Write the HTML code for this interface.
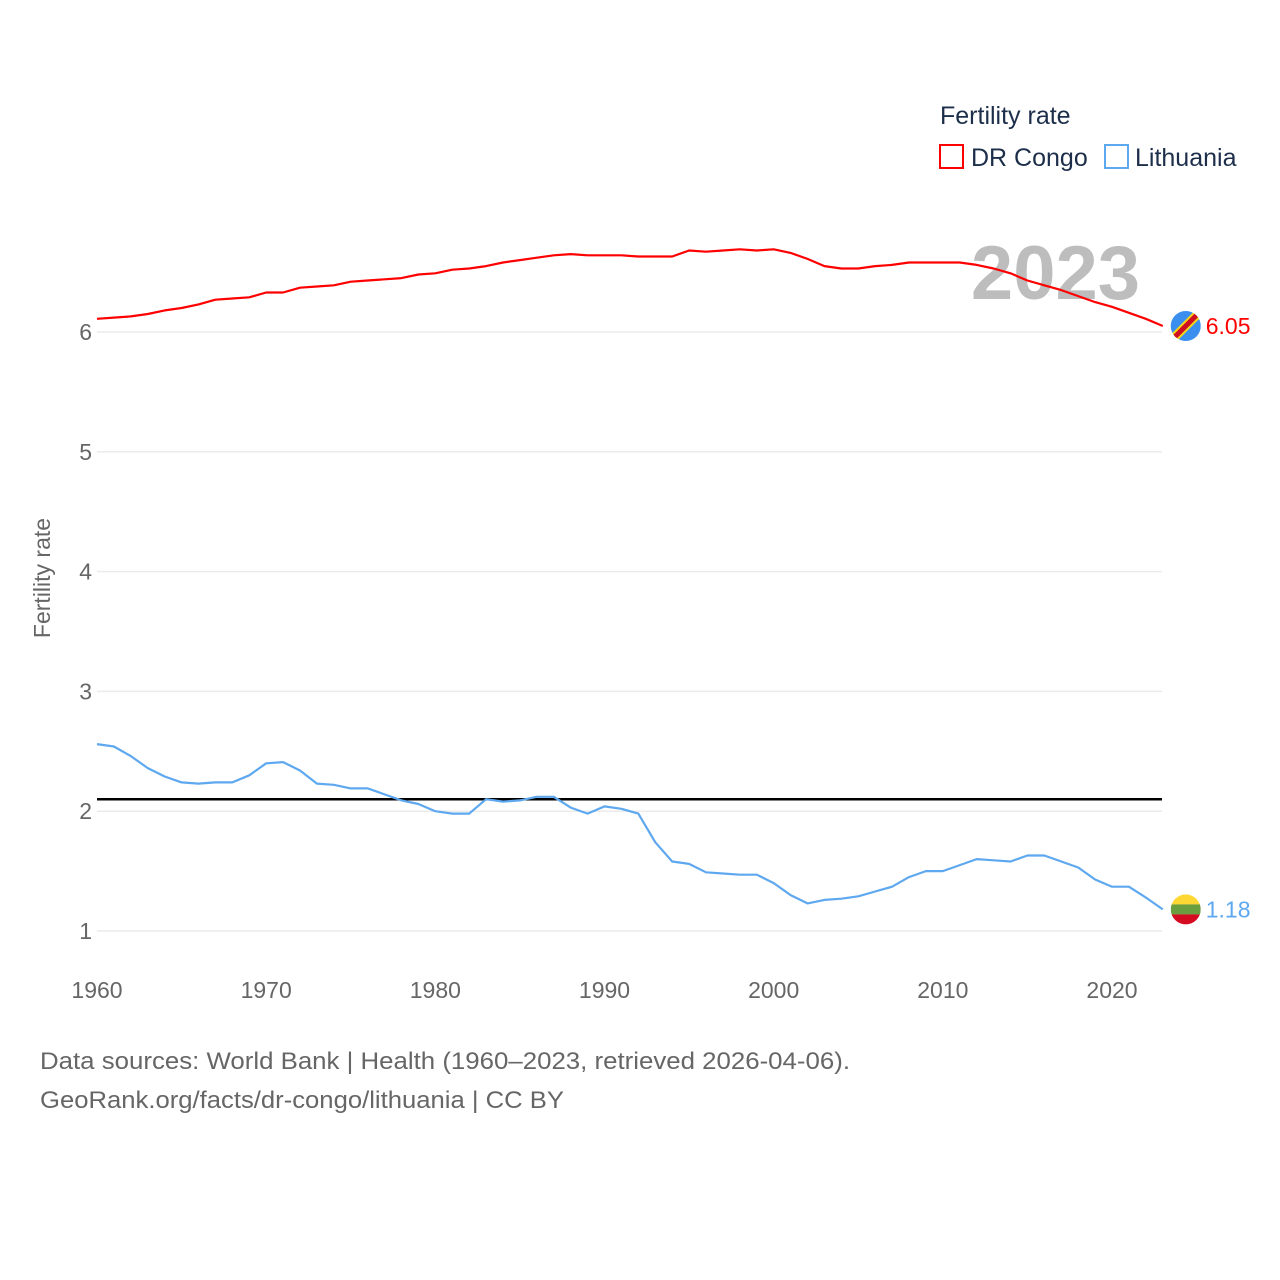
<!DOCTYPE html>
<html><head><meta charset="utf-8"><style>
html,body{margin:0;padding:0;background:#fff;}
svg{display:block;font-family:"Liberation Sans",sans-serif;}
</style></head><body>
<svg id="chart" width="1280" height="1280" viewBox="0 0 1280 1280">
<g id="grid"></g>
<g id="yticks"></g>
<g id="xticks"></g>
<text x="50" y="578" transform="rotate(-90 50 578)" text-anchor="middle" font-size="23" fill="#666">Fertility rate</text>
<text x="1140" y="299" text-anchor="end" font-size="76" font-weight="bold" fill="#bdbdbd">2023</text>
<g id="series"></g>
<g>
<text x="940" y="124" font-size="25" fill="#1c2e4a">Fertility rate</text>
<g><rect x="940" y="145" width="23" height="23" fill="none" stroke="#ff0000" stroke-width="2"/><text x="971" y="166" font-size="25" fill="#1c2e4a">DR Congo</text></g>
<g><rect x="1105" y="145" width="23" height="23" fill="none" stroke="#5ea8ef" stroke-width="2"/><text x="1135" y="166" font-size="25" fill="#1c2e4a">Lithuania</text></g>
</g>
<text x="40" y="1069" font-size="24" fill="#666" textLength="810" lengthAdjust="spacingAndGlyphs">Data sources: World Bank | Health (1960–2023, retrieved 2026-04-06).</text>
<text x="40" y="1108" font-size="24" fill="#666" textLength="524" lengthAdjust="spacingAndGlyphs">GeoRank.org/facts/dr-congo/lithuania | CC BY</text>
</svg>
<script>
const startYear = 1960;
const congo = [6.11,6.12,6.13,6.15,6.18,6.20,6.23,6.27,6.28,6.29,6.33,6.33,6.37,6.38,6.39,6.42,6.43,6.44,6.45,6.48,6.49,6.52,6.53,6.55,6.58,6.60,6.62,6.64,6.65,6.64,6.64,6.64,6.63,6.63,6.63,6.68,6.67,6.68,6.69,6.68,6.69,6.66,6.61,6.55,6.53,6.53,6.55,6.56,6.58,6.58,6.58,6.58,6.56,6.53,6.49,6.43,6.39,6.35,6.30,6.25,6.21,6.16,6.11,6.05];
const lithuania = [2.56,2.54,2.46,2.36,2.29,2.24,2.23,2.24,2.24,2.30,2.40,2.41,2.34,2.23,2.22,2.19,2.19,2.14,2.09,2.06,2.00,1.98,1.98,2.10,2.08,2.09,2.12,2.12,2.03,1.98,2.04,2.02,1.98,1.74,1.58,1.56,1.49,1.48,1.47,1.47,1.40,1.30,1.23,1.26,1.27,1.29,1.33,1.37,1.45,1.50,1.50,1.55,1.60,1.59,1.58,1.63,1.63,1.58,1.53,1.43,1.37,1.37,1.28,1.18];
const yTicks = [1,2,3,4,5,6];
const xTicks = [1960,1970,1980,1990,2000,2010,2020];
const replacement = 2.1;

const NS='http://www.w3.org/2000/svg';
const X0=97;
const xs = yr => X0 + (yr-1960)*(1112-97)/60;
const ys = v => 332 + (6-v)*119.8;
function mk(tag, attrs, parent){const e=document.createElementNS(NS,tag);for(const k in attrs)e.setAttribute(k,attrs[k]);parent.appendChild(e);return e;}
const grid=document.getElementById('grid'), yt=document.getElementById('yticks'), xt=document.getElementById('xticks'), ser=document.getElementById('series');
yTicks.forEach(v=>{
  const l=mk('line',{x1:X0,x2:1162,y1:ys(v),y2:ys(v),stroke:'#ebebeb','stroke-width':1.5},grid);
  
  
  const t=mk('text',{x:92,y:ys(v)+8,'text-anchor':'end','font-size':23,fill:'#666'},yt);
  t.textContent=v;
  
  
});
xTicks.forEach(v=>{
  const t=mk('text',{x:xs(v),y:998,'text-anchor':'middle','font-size':23,fill:'#666'},xt);
  t.textContent=v;
  
  
});
const ref=mk('line',{x1:X0,x2:1162,y1:ys(replacement),y2:ys(replacement),stroke:'#000','stroke-width':2.5},ser);


function line(data,color,name){
  const d=data.map((v,i)=>(i?'L':'M')+xs(startYear+i).toFixed(1)+' '+ys(v).toFixed(1)).join(' ');
  const p=mk('path',{d:d,fill:'none',stroke:color,'stroke-width':2.2,'stroke-linejoin':'round'},ser);
  
  
}
line(congo,'#ff0000','dr-congo-line');
line(lithuania,'#5ea8ef','lithuania-line');
const lc=congo[congo.length-1], ll=lithuania[lithuania.length-1], lx=xs(startYear+congo.length-1);
const g1=mk('g',{},ser);


const cp1=mk('clipPath',{id:'c1'},g1);mk('circle',{cx:lx+23,cy:ys(lc),r:15},cp1);
mk('circle',{cx:lx+23,cy:ys(lc),r:15,fill:'#3a8fee'},g1);
mk('line',{x1:lx+10,y1:ys(lc)+13,x2:lx+36,y2:ys(lc)-13,stroke:'#f7d618','stroke-width':9,'clip-path':'url(#c1)'},g1);
mk('line',{x1:lx+10,y1:ys(lc)+13,x2:lx+36,y2:ys(lc)-13,stroke:'#ce1021','stroke-width':5,'clip-path':'url(#c1)'},g1);
const t1=mk('text',{x:lx+43,y:ys(lc)+8,'font-size':23,fill:'#ff0000'},ser);
t1.textContent=lc.toFixed(2);


const g2=mk('g',{},ser);


const cy=ys(ll);
const cp=mk('clipPath',{id:'c2'},g2);mk('circle',{cx:lx+23,cy:cy,r:15},cp);
mk('rect',{x:lx+8,y:cy-15,width:30,height:10,fill:'#fdd835','clip-path':'url(#c2)'},g2);
mk('rect',{x:lx+8,y:cy-5,width:30,height:10,fill:'#6a9e3f','clip-path':'url(#c2)'},g2);
mk('rect',{x:lx+8,y:cy+5,width:30,height:10,fill:'#d50b21','clip-path':'url(#c2)'},g2);
const t2=mk('text',{x:lx+43,y:cy+8,'font-size':23,fill:'#5ea8ef'},ser);
t2.textContent=ll.toFixed(2);


</script>
</body></html>
